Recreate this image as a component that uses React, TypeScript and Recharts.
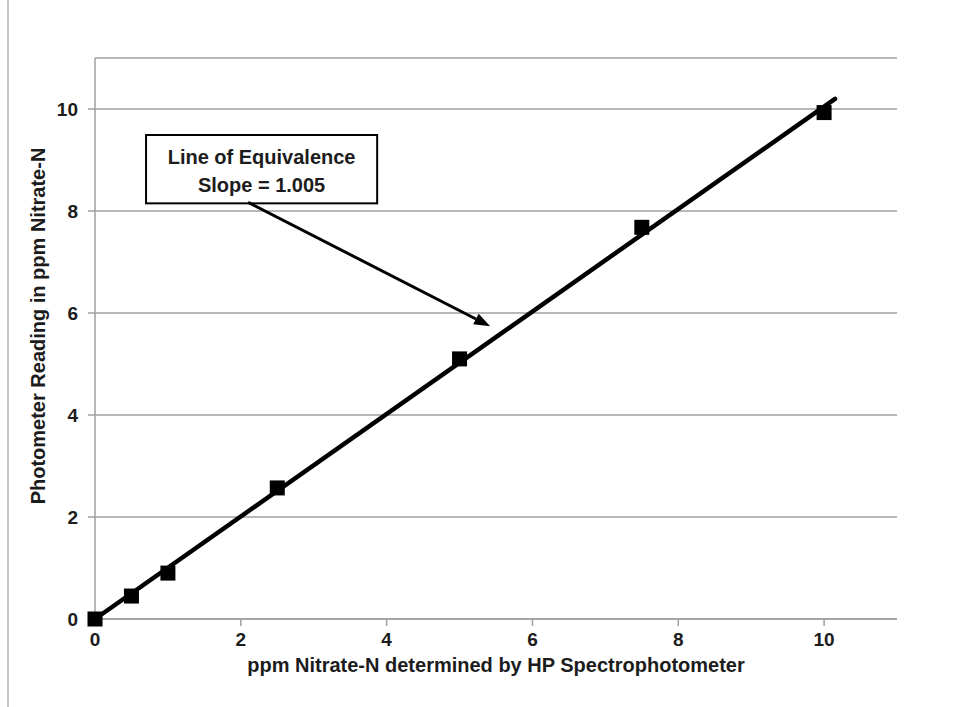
import { ScatterChart, Scatter, XAxis, YAxis, CartesianGrid, ReferenceLine, ReferenceArea, Label } from 'recharts'

// measured points: HP spectrophotometer (x) vs photometer (y), ppm Nitrate-N
const hpValues = [0, 0.5, 1, 2.5, 5, 7.5, 10]
const photometerValues = [0, 0.45, 0.9, 2.57, 5.1, 7.68, 9.93]

// line of equivalence end points
const fitX = [0, 10.15]
const fitY = [0, 10.2]

const xTicks = [0, 2, 4, 6, 8, 10]
const yTicks = [0, 2, 4, 6, 8, 10]

const boxLines = ['Line of Equivalence', 'Slope = 1.005']

const points = hpValues.map((x, i) => ({ x, y: photometerValues[i] }))
const fitLine = fitX.map((x, i) => ({ x, y: fitY[i] }))

const font = '"Liberation Sans", Arial, sans-serif'
const ink = '#1c1c1c'

const Square = (props: any) => {
  const { cx, cy } = props
  if (cx == null || cy == null) return null
  const s = 15
  return <rect x={cx - s / 2} y={cy - s / 2} width={s} height={s} fill="#000" />
}

const NoDot = () => null

const Arrow = (props: any) => {
  const { x1, y1, x2, y2 } = props
  if (x1 == null) return null
  const ang = Math.atan2(y2 - y1, x2 - x1)
  const len = 16
  const half = 6
  const bx = x2 - len * Math.cos(ang)
  const by = y2 - len * Math.sin(ang)
  const px = -Math.sin(ang) * half
  const py = Math.cos(ang) * half
  return (
    <g>
      <line x1={x1} y1={y1} x2={bx} y2={by} stroke="#000" strokeWidth={3} />
      <polygon points={`${x2},${y2} ${bx + px},${by + py} ${bx - px},${by - py}`} fill="#000" />
    </g>
  )
}

const NoteBox = (props: any) => {
  const { x, y, width, height } = props
  if (x == null) return null
  const cx = x + width / 2
  return (
    <g>
      <rect x={x} y={y} width={width} height={height} fill="#fff" stroke="#000" strokeWidth={2} />
      <text x={cx} y={y + 29} textAnchor="middle" fontFamily={font} fontWeight="bold" fontSize={20} fill={ink}>
        {boxLines[0]}
      </text>
      <text x={cx} y={y + 57} textAnchor="middle" fontFamily={font} fontWeight="bold" fontSize={20} fill={ink}>
        {boxLines[1]}
      </text>
    </g>
  )
}

const YTitle = () => (
  <text
    x={45}
    y={326}
    transform="rotate(-90 45 326)"
    textAnchor="middle"
    fontFamily={font}
    fontWeight="bold"
    fontSize={20}
    fill={ink}
  >
    Photometer Reading in ppm Nitrate-N
  </text>
)

export default function App() {
  const tickStyle = { fontFamily: font, fontWeight: 'bold', fontSize: 19, fill: ink }
  return (
    <div style={{ position: 'absolute', left: 0, top: 0, width: 959, height: 707, background: '#fff' }}>
      <div style={{ position: 'absolute', left: 7, top: 0, width: 2, height: 707, background: '#c8c8c8' }} />
      <ScatterChart width={959} height={707} margin={{ top: 58, right: 62, bottom: 58, left: 35 }}>
        <CartesianGrid horizontal vertical={false} stroke="#a0a0a0" strokeWidth={1.5} />
        <XAxis
          type="number"
          dataKey="x"
          domain={[0, 11]}
          ticks={xTicks}
          height={30}
          stroke="#a0a0a0"
          strokeWidth={1.5}
          tickSize={7}
          tickMargin={7}
          tick={tickStyle}
        >
          <Label
            value="ppm Nitrate-N determined by HP Spectrophotometer"
            position="bottom"
            offset={9}
            style={{ fontFamily: font, fontWeight: 'bold', fontSize: 20, fill: ink }}
          />
        </XAxis>
        <YAxis
          type="number"
          dataKey="y"
          domain={[0, 11]}
          ticks={yTicks}
          width={60}
          stroke="#a0a0a0"
          strokeWidth={1.5}
          tickSize={7}
          tickMargin={10}
          tick={tickStyle}
        >
          <Label content={<YTitle />} />
        </YAxis>
        <ReferenceArea x1={0.7} x2={3.87} y1={8.15} y2={9.49} shape={<NoteBox />} />
        <ReferenceLine
          segment={[{ x: 2.1, y: 8.17 }, { x: 5.42, y: 5.74 }]}
          shape={(p: any) => <Arrow {...p} />}
        />
        <Scatter
          data={fitLine}
          line={{ stroke: '#000', strokeWidth: 4.5, strokeLinecap: 'round' }}
          shape={<NoDot />}
          isAnimationActive={false}
        />
        <Scatter data={points} shape={<Square />} isAnimationActive={false} />
      </ScatterChart>
    </div>
  )
}
